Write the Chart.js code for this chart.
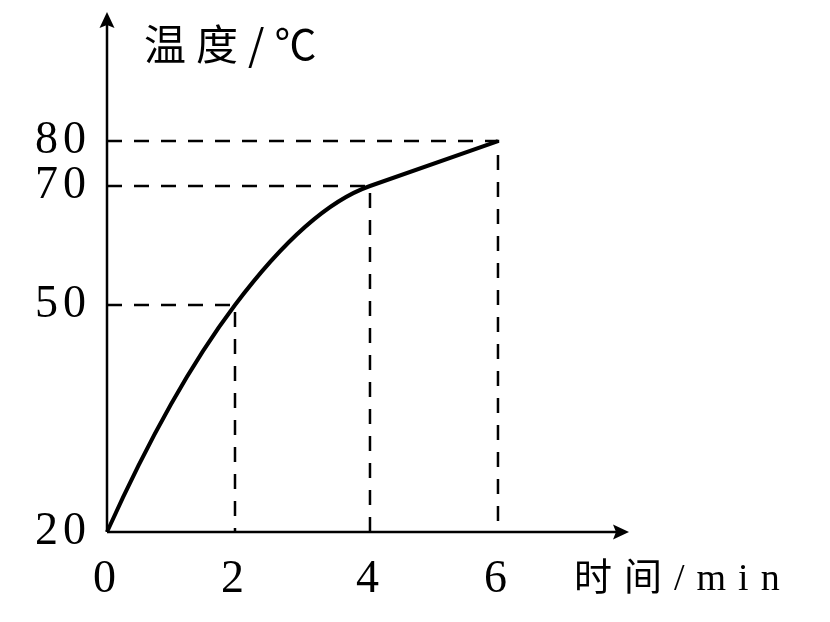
<!DOCTYPE html>
<html>
<head>
<meta charset="utf-8">
<title>温度-时间图像</title>
<script src="https://cdn.jsdelivr.net/npm/chart.js@4.4.1/dist/chart.umd.min.js"></script>
<style>
    html, body { margin: 0; padding: 0; background: #fff; }
    #wrap { width: 830px; height: 622px; }
</style>
</head>
<body>
<div id="wrap"><canvas id="myChart"></canvas></div>
<script>
// 时间 (min) / 温度 (℃)
const times = [0, 2, 4, 6];
const temps = [20, 50, 70, 80];
const xTicks = [0, 2, 4, 6];
const yTicks = [20, 50, 70, 80];
const xMax = 8;    // where the x arrow ends
const yMax = 100;  // where the y arrow ends
const xTitle = '时间/min';
const yTitle = '温度/℃';

// the sketch is not drawn to scale: where each value sits along its axis (0 = origin, 1 = arrow tip)
const bends = {
    x: [[0, 0], [2, 0.2452], [4, 0.5038], [6, 0.749], [8, 1]],
    y: [[20, 0], [50, 0.4365], [70, 0.6654], [80, 0.7519], [100, 1]]
};

function lookup(knots, v, from, to) {
    for (let i = 1; i < knots.length; i++) {
        const a = knots[i - 1], b = knots[i];
        if (v <= b[from] || i === knots.length - 1) {
            const t = (v - a[from]) / (b[from] - a[from]);
            return a[to] + t * (b[to] - a[to]);
        }
    }
}

// linear scale with a piecewise mapping, so the marks land where the sketch has them
class SketchScale extends Chart.LinearScale {
    getPixelForValue(value) {
        if (value === null || isNaN(value)) return NaN;
        return this.getPixelForDecimal(lookup(bends[this.id], value, 0, 1));
    }
    getValueForPixel(pixel) {
        return lookup(bends[this.id], this.getDecimalForPixel(pixel), 1, 0);
    }
}
SketchScale.id = 'sketch';
SketchScale.defaults = { ticks: { callback: (v) => String(v) } };
Chart.register(SketchScale);

const tickFont = { family: '"Liberation Serif", "Times New Roman", serif', size: 46 };

function arrow(ctx, x, y, dx, dy) {
    const len = 16, half = 7.5, notch = 13;
    const px = -dy, py = dx;
    ctx.beginPath();
    ctx.moveTo(x, y);
    ctx.lineTo(x - dx * len + px * half, y - dy * len + py * half);
    ctx.lineTo(x - dx * notch, y - dy * notch);
    ctx.lineTo(x - dx * len - px * half, y - dy * len - py * half);
    ctx.closePath();
    ctx.fill();
}

// heating curve: steep at first, then levelling off, straight over the last interval
const smoothCurve = {
    id: 'smoothCurve',
    beforeDatasetDraw(chart, args) {
        if (args.index !== 0) return;
        const meta = args.meta;
        meta.dataset.updateControlPoints(chart.chartArea, meta.iScale.axis);
        const p = meta.data;
        const n = p.length;
        const s = [];
        for (let i = 0; i < n - 1; i++) s.push((p[i + 1].y - p[i].y) / (p[i + 1].x - p[i].x));
        const m = [];
        for (let i = 1; i < n - 1; i++) m[i] = (s[i - 1] + s[i]) / 2;
        m[n - 2] = s[n - 2];
        m[n - 1] = s[n - 2];
        m[0] = 2 * s[0] - m[1];
        for (let i = 0; i < n; i++) {
            if (i > 0) {
                const h = (p[i].x - p[i - 1].x) / 3;
                p[i].cp1x = p[i].x - h;
                p[i].cp1y = p[i].y - m[i] * h;
            }
            if (i < n - 1) {
                const h = (p[i + 1].x - p[i].x) / 3;
                p[i].cp2x = p[i].x + h;
                p[i].cp2y = p[i].y + m[i] * h;
            }
        }
    }
};

const sketchAxes = {
    id: 'sketchAxes',
    beforeDraw(chart) {
        chart.ctx.letterSpacing = '5px';
    },
    afterDraw(chart) {
        const { ctx, chartArea: a } = chart;
        ctx.save();
        ctx.strokeStyle = '#000';
        ctx.fillStyle = '#000';
        ctx.lineWidth = 2.5;
        ctx.beginPath();
        ctx.moveTo(a.left, a.bottom);
        ctx.lineTo(a.left, a.top + 8);
        ctx.moveTo(a.left, a.bottom);
        ctx.lineTo(a.right - 8, a.bottom);
        ctx.stroke();
        arrow(ctx, a.left, a.top, 0, -1);
        arrow(ctx, a.right, a.bottom, 1, 0);

        ctx.textAlign = 'left';
        ctx.textBaseline = 'middle';
        ctx.letterSpacing = '10px';
        ctx.font = '42px "Noto Sans CJK SC"';
        ctx.fillText(yTitle, a.left + 37, a.top + 32);
        ctx.letterSpacing = '12px';
        ctx.font = '38px "Liberation Serif", "Noto Sans CJK SC"';
        ctx.fillText(xTitle, a.right - 55, a.bottom + 48);
        ctx.restore();
    }
};

// dashed guides from each reading to both axes
const guides = times.slice(1).map((t, i) => ({
    data: [{ x: 0, y: temps[i + 1] }, { x: t, y: temps[i + 1] }, { x: t, y: temps[0] }],
    borderColor: '#000',
    borderWidth: 2.5,
    borderDash: [15, 12],
    pointRadius: 0,
    tension: 0,
    clip: false,
    order: 1
}));

new Chart('myChart', {
    type: 'line',
    data: {
        datasets: [{
            data: times.map((t, i) => ({ x: t, y: temps[i] })),
            borderColor: '#000',
            borderWidth: 4,
            pointRadius: 0,
            tension: 0.4,
            clip: false,
            order: 0
        }, ...guides]
    },
    options: {
        responsive: true,
        maintainAspectRatio: false,
        animation: false,
        layout: { padding: { top: 12, right: 201, left: 0, bottom: 0 } },
        plugins: { legend: { display: false }, tooltip: { enabled: false } },
        scales: {
            x: {
                type: 'sketch',
                min: 0,
                max: xMax,
                grid: { display: false, drawTicks: false },
                border: { display: false },
                ticks: { color: '#000', font: tickFont, padding: 20, maxRotation: 0, autoSkip: false },
                afterBuildTicks: (s) => { s.ticks = xTicks.map(v => ({ value: v })); },
                afterFit: (s) => { s.height = 90; s.paddingLeft = 0; s.paddingRight = 0; }
            },
            y: {
                type: 'sketch',
                min: 20,
                max: yMax,
                grid: { display: false, drawTicks: false },
                border: { display: false },
                ticks: { color: '#000', font: tickFont, padding: 16, autoSkip: false },
                afterBuildTicks: (s) => { s.ticks = yTicks.map(v => ({ value: v })); },
                afterFit: (s) => { s.width = 107; s.paddingTop = 0; s.paddingBottom = 0; }
            }
        }
    },
    plugins: [smoothCurve, sketchAxes]
});
</script>
</body>
</html>
